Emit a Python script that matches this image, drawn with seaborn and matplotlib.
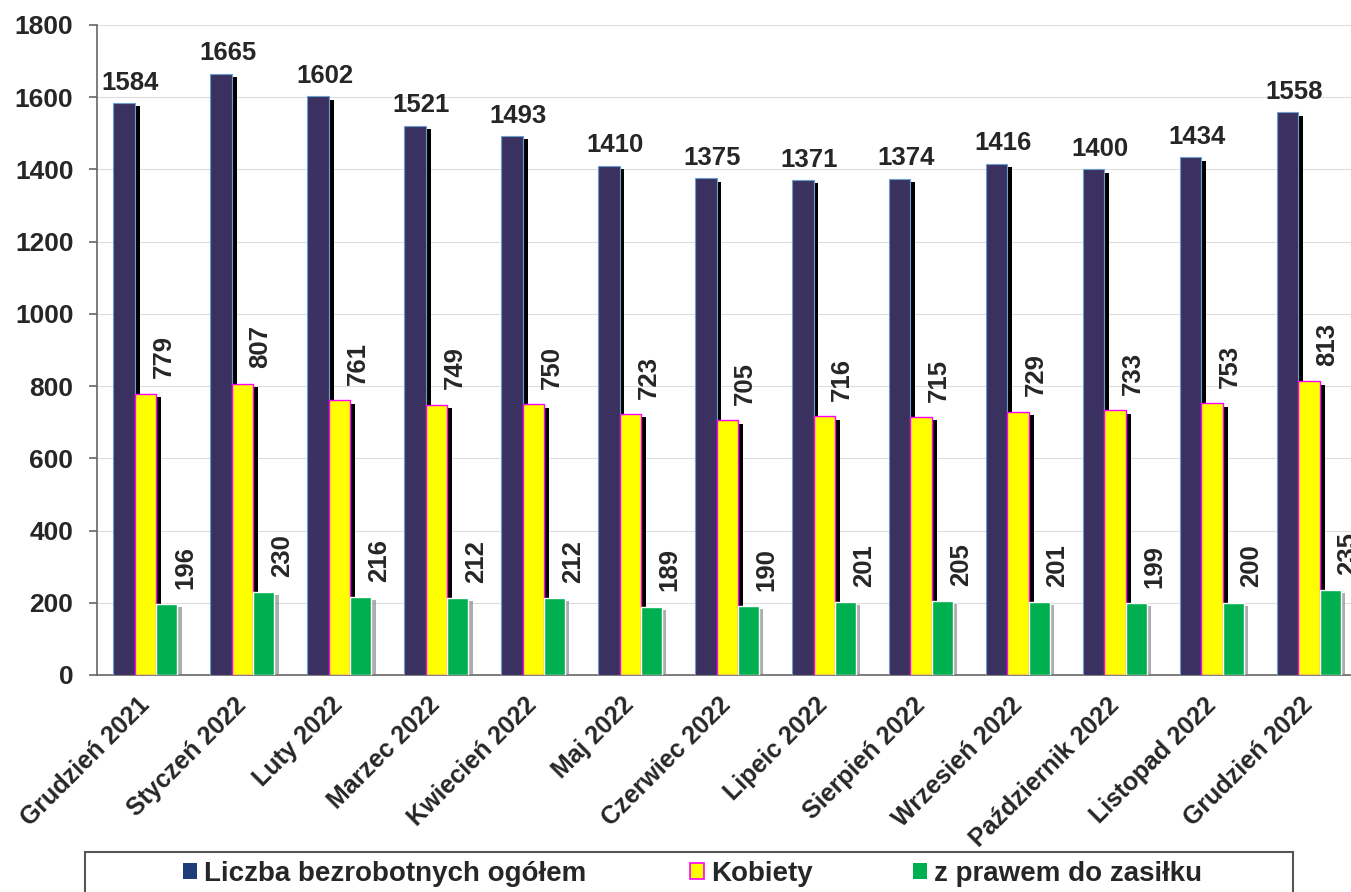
import numpy as np
import pandas as pd
import seaborn as sns
import matplotlib.pyplot as plt
import matplotlib.patheffects as pe
from matplotlib.patches import Rectangle, Patch

# dane
miesiace = ['Grudzień 2021', 'Styczeń 2022', 'Luty 2022', 'Marzec 2022', 'Kwiecień 2022',
            'Maj 2022', 'Czerwiec 2022', 'Lipeic 2022', 'Sierpień 2022', 'Wrzesień 2022',
            'Październik 2022', 'Listopad 2022', 'Grudzień 2022']
ogolem = [1584, 1665, 1602, 1521, 1493, 1410, 1375, 1371, 1374, 1416, 1400, 1434, 1558]
kobiety = [779, 807, 761, 749, 750, 723, 705, 716, 715, 729, 733, 753, 813]
zasilek = [196, 230, 216, 212, 212, 189, 190, 201, 205, 201, 199, 200, 235]
serie = ['Liczba bezrobotnych ogółem', 'Kobiety', 'z prawem do zasiłku']
kolory = ['#3b3160', '#ffff00', '#00b050']

wartosci = [ogolem, kobiety, zasilek]
df = pd.DataFrame({
    'miesiac': miesiace * 3,
    'seria': [s for s in serie for _ in miesiace],
    'wartosc': ogolem + kobiety + zasilek,
})

sns.set_style('white')
plt.rcParams['font.family'] = ['Liberation Sans', 'DejaVu Sans']
plt.rcParams['font.weight'] = 'bold'

fig = plt.figure(figsize=(13.51, 8.92), dpi=100)
ax = fig.add_axes([0.0718, 0.2433, 0.933, 0.7287])

sns.barplot(data=df, x='miesiac', y='wartosc', hue='seria', palette=kolory,
            width=0.66, saturation=1, legend=False, ax=ax, zorder=3)

# "3D" cien po prawej stronie slupkow
for i, cont in enumerate(ax.containers):
    for bar in cont:
        if i == 2:
            bar.set_path_effects([pe.SimplePatchShadow(offset=(3, -2), shadow_rgbFace='#777777', alpha=0.6),
                                  pe.Normal()])
        else:
            bar.set_path_effects([pe.SimplePatchShadow(offset=(3.5, -2.5), shadow_rgbFace='black', alpha=1),
                                  pe.Normal()])
        if i == 0:
            bar.set_edgecolor('#6a9fd0')
            bar.set_linewidth(0.8)
        elif i == 1:
            bar.set_edgecolor('#ff00ff')
            bar.set_linewidth(1.0)

# etykiety wartosci
for i, cont in enumerate(ax.containers):
    for bar, v in zip(cont, wartosci[i]):
        x = bar.get_x() + bar.get_width() / 2
        w = bar.get_width()
        if i == 0:
            ax.annotate(str(v), (x + 0.3 * w, v), xytext=(0, 6), textcoords='offset points',
                        ha='center', va='bottom', fontsize=18.5, fontweight='bold')
        else:
            ax.annotate(str(v), (x + 0.85 * w, v), xytext=(0, 11), textcoords='offset points',
                        ha='center', va='bottom', rotation=90, fontsize=18.5, fontweight='bold')

ax.set_xlim(-0.5, 12.5)
ax.set_ylim(0, 1800)
ax.set_yticks(range(0, 1801, 200))
ax.yaxis.grid(True, color='#dddddd', lw=0.8, zorder=0)
ax.set_axisbelow(True)
ax.set_xlabel('')
ax.set_ylabel('')

for s in ['top', 'right']:
    ax.spines[s].set_visible(False)
for s in ['left', 'bottom']:
    ax.spines[s].set_color('#666666')
    ax.spines[s].set_linewidth(1.2)

ax.set_xticks(range(len(miesiace)))
ax.set_xticklabels(miesiace, rotation=45, ha='right', rotation_mode='anchor', va='center')
ax.set_xticks(np.arange(-0.5, 13, 1), minor=True)
ax.tick_params(axis='x', which='major', length=0, pad=19, labelsize=18)
ax.tick_params(axis='x', which='minor', length=6, color='#666666', direction='out', width=1.2)
ax.tick_params(axis='y', length=6, color='#666666', width=1.2, labelsize=19, pad=11,
               left=True, direction='out')

# legenda w ramce
poz_leg = [183, 690, 913]
for k, x0 in enumerate(poz_leg):
    h = Patch(facecolor=kolory[k] if k != 0 else '#1f3c7a',
              edgecolor='#ff00ff' if k == 1 else 'none', lw=1.2)
    fig.legend(handles=[h], labels=[serie[k]], loc='center left',
               bbox_to_anchor=(x0 / 1351, 1 - 874 / 892), frameon=False, fontsize=20,
               handlelength=0.5, handleheight=0.5, handletextpad=0.25,
               borderpad=0, borderaxespad=0)

fig.add_artist(Rectangle((85 / 1351, -0.05), (1293 - 85) / 1351, (1 - 852 / 892) + 0.05,
                         transform=fig.transFigure, fill=False, edgecolor='#555555', lw=1.5))

fig.savefig('out.png', dpi=100)
